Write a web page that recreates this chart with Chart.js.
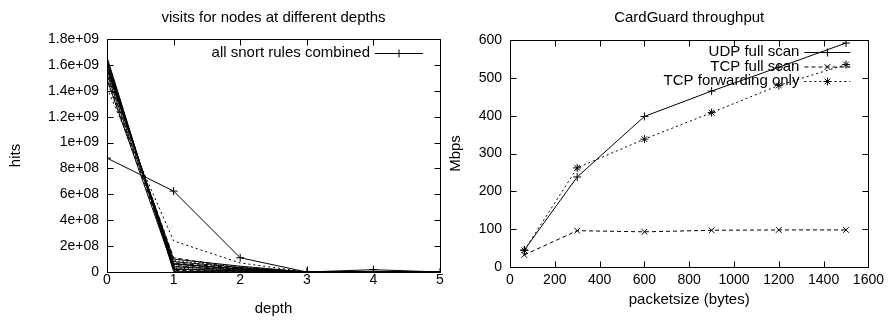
<!DOCTYPE html>
<html>
<head>
<meta charset="utf-8">
<script src="https://cdn.jsdelivr.net/npm/chart.js@4.4.1/dist/chart.umd.min.js"></script>
<style>
  html, body { margin: 0; padding: 0; background: #fff; }
  #wrap { position: relative; width: 889px; height: 320px; }
  canvas { position: absolute; top: 0; }
  #depthChart { left: 0; }
  #cardChart { left: 445px; }
</style>
</head>
<body>
<div id="wrap">
  <canvas id="depthChart" width="445" height="320"></canvas>
  <canvas id="cardChart" width="444" height="320"></canvas>
</div>
<script>
// --- visits per depth (left plot) ---
const depths = [0, 1, 2, 3, 4, 5];
const hitsTicks = [0, 2e8, 4e8, 6e8, 8e8, 1e9, 1.2e9, 1.4e9, 1.6e9, 1.8e9];
const hitsTickLabels = ['0', '2e+08', '4e+08', '6e+08', '8e+08', '1e+09', '1.2e+09', '1.4e+09', '1.6e+09', '1.8e+09'];
const combinedHits = [8.8e8, 6.25e8, 1.1e8, 0, 1.8e7, 0];
// single rules (no key entry), read off the bundle of lines
const ruleHits = [
    [1.66e9, 5e6, 2e6, 0, 0, 0],
    [1.65e9, 1.2e7, 4e6, 0, 0, 0],
    [1.64e9, 2.0e7, 8e6, 0, 1e6, 0],
    [1.63e9, 3.0e7, 1.2e7, 0, 0, 0],
    [1.62e9, 4.0e7, 1.5e7, 0, 2e6, 0],
    [1.61e9, 5.0e7, 2.0e7, 0, 0, 0],
    [1.60e9, 6.0e7, 2.5e7, 0, 3e6, 0],
    [1.59e9, 7.0e7, 3.0e7, 0, 0, 0],
    [1.58e9, 8.0e7, 3.5e7, 0, 0, 0],
    [1.57e9, 9.0e7, 4.0e7, 0, 5e6, 0],
    [1.56e9, 1.0e8, 4.5e7, 0, 0, 0],
    [1.55e9, 1.1e8, 3.0e7, 0, 0, 0],
    [1.53e9, 6.5e7, 2.2e7, 0, 0, 0],
    [1.51e9, 4.5e7, 1.8e7, 0, 0, 0],
    [1.49e9, 2.5e7, 1.0e7, 0, 0, 0],
    [1.47e9, 8.5e7, 3.8e7, 0, 0, 0],
    [1.42e9, 2.4e8, 7.0e7, 0, 0, 0]
];

// --- CardGuard throughput (right plot) ---
const packetSizes = [64, 300, 600, 900, 1200, 1500];
const udpFullScan = [45, 238, 398, 465, 528, 592];
const tcpFullScan = [32, 96, 93, 97, 98, 98];
const tcpForwarding = [44, 262, 338, 408, 480, 535];
const sizeTicks = [0, 200, 400, 600, 800, 1000, 1200, 1400, 1600];
const mbpsTicks = [0, 100, 200, 300, 400, 500, 600];

const FONT = '"Liberation Sans", Arial, Helvetica, sans-serif';
Chart.defaults.font.family = FONT;
Chart.defaults.font.size = 14;
Chart.defaults.color = '#000';

const DASHED = [4, 3];
const DOTTED = [1, 3];
const TEXT_FONT = { size: 15, weight: 'normal' };

// border box + inward ticks on all four sides, like gnuplot
const gnuplotFrame = {
    id: 'gnuplotFrame',
    afterDraw(chart) {
        const { ctx, chartArea: a, scales } = chart;
        const len = 6;
        const l = Math.round(a.left) + 0.5, r = Math.round(a.right) + 0.5;
        const t = Math.round(a.top) + 0.5, b = Math.round(a.bottom) + 0.5;
        ctx.save();
        ctx.strokeStyle = '#000';
        ctx.lineWidth = 1;
        ctx.beginPath();
        scales.x.ticks.forEach(tk => {
            const px = Math.round(scales.x.getPixelForValue(tk.value)) + 0.5;
            ctx.moveTo(px, b); ctx.lineTo(px, b - len);
            ctx.moveTo(px, t); ctx.lineTo(px, t + len);
        });
        scales.y.ticks.forEach(tk => {
            const py = Math.round(scales.y.getPixelForValue(tk.value)) + 0.5;
            ctx.moveTo(l, py); ctx.lineTo(l + len, py);
            ctx.moveTo(r, py); ctx.lineTo(r - len, py);
        });
        ctx.rect(l, t, r - l, b - t);
        ctx.stroke();
        ctx.restore();
    }
};

// key in the top right corner: text, then line sample with its marker
const gnuplotKey = {
    id: 'gnuplotKey',
    afterDatasetsDraw(chart, args, opts) {
        const { ctx, chartArea: a } = chart;
        const x1 = a.right - opts.right;
        const x0 = x1 - opts.sample;
        let y = a.top + opts.top;
        ctx.save();
        ctx.font = TEXT_FONT.size + 'px ' + FONT;
        ctx.textAlign = 'right';
        ctx.textBaseline = 'middle';
        ctx.fillStyle = '#000';
        ctx.strokeStyle = '#000';
        ctx.lineWidth = 1;
        chart.data.datasets.forEach(ds => {
            if (!ds.inKey) return;
            ctx.fillText(ds.label, x0 - opts.gap, y);
            ctx.setLineDash(ds.borderDash || []);
            ctx.beginPath();
            ctx.moveTo(x0, y + 0.5);
            ctx.lineTo(x1, y + 0.5);
            ctx.stroke();
            ctx.setLineDash([]);
            Chart.helpers.drawPoint(ctx, {
                pointStyle: ds.pointStyle, radius: ds.pointRadius, borderWidth: 1, rotation: 0
            }, (x0 + x1) / 2, y + 0.5);
            y += opts.step;
        });
        ctx.restore();
    }
};

function serie(label, xs, ys, style) {
    return Object.assign({
        label: label,
        data: xs.map((x, i) => ({ x: x, y: ys[i] })),
        borderColor: '#000',
        backgroundColor: '#000',
        borderWidth: 1,
        pointRadius: 0,
        pointBorderWidth: 1,
        fill: false,
        tension: 0
    }, style);
}

const lineStyles = [[], DASHED, [], DOTTED, [], DASHED];
const depthSets = ruleHits.map((h, i) =>
    serie('rule ' + (i + 1), depths, h, { borderDash: i === ruleHits.length - 1 ? [2, 3] : lineStyles[i % lineStyles.length] }));
depthSets.push(serie('all snort rules combined', depths, combinedHits, {
    pointStyle: 'cross', pointRadius: 4, inKey: true
}));

new Chart(document.getElementById('depthChart'), {
    type: 'line',
    data: { datasets: depthSets },
    options: {
        responsive: false,
        animation: false,
        layout: { padding: { right: 5 } },
        plugins: {
            legend: { display: false },
            tooltip: { enabled: false },
            title: {
                display: true, text: 'visits for nodes at different depths',
                font: TEXT_FONT, color: '#000', fullSize: false,
                padding: { top: 9, bottom: 12 }
            },
            gnuplotKey: { right: 17, sample: 48, gap: 5, top: 14, step: 14.5 }
        },
        scales: {
            x: {
                type: 'linear', min: 0, max: 5,
                grid: { display: false, drawTicks: false }, border: { display: false },
                afterBuildTicks: s => { s.ticks = depths.map(v => ({ value: v })); },
                ticks: { padding: 0, maxRotation: 0, callback: v => String(v) },
                title: { display: true, text: 'depth', font: TEXT_FONT, padding: { top: 0, bottom: 2 } },
                afterFit: s => { s.height = 48; }
            },
            y: {
                type: 'linear', min: 0, max: 1.8e9,
                grid: { display: false, drawTicks: false }, border: { display: false },
                afterBuildTicks: s => { s.ticks = hitsTicks.map(v => ({ value: v })); },
                ticks: { padding: 8, callback: (v, i) => hitsTickLabels[i] },
                title: { display: true, text: 'hits', font: TEXT_FONT, padding: { top: 7, bottom: 0 } },
                afterFit: s => { s.width = 107; }
            }
        }
    },
    plugins: [gnuplotFrame, gnuplotKey]
});

new Chart(document.getElementById('cardChart'), {
    type: 'line',
    data: {
        datasets: [
            serie('UDP full scan', packetSizes, udpFullScan, { pointStyle: 'cross', pointRadius: 4, inKey: true }),
            serie('TCP full scan', packetSizes, tcpFullScan, { pointStyle: 'crossRot', pointRadius: 4, borderDash: DASHED, inKey: true }),
            serie('TCP forwarding only', packetSizes, tcpForwarding, { pointStyle: 'star', pointRadius: 4, borderDash: [2, 3], inKey: true })
        ]
    },
    options: {
        responsive: false,
        animation: false,
        layout: { padding: { right: 18 } },
        plugins: {
            legend: { display: false },
            tooltip: { enabled: false },
            title: {
                display: true, text: 'CardGuard throughput',
                font: TEXT_FONT, color: '#000', fullSize: false,
                padding: { top: 9, bottom: 13 }
            },
            gnuplotKey: { right: 18, sample: 46, gap: 5, top: 12, step: 14.5 }
        },
        scales: {
            x: {
                type: 'linear', min: 0, max: 1600,
                grid: { display: false, drawTicks: false }, border: { display: false },
                afterBuildTicks: s => { s.ticks = sizeTicks.map(v => ({ value: v })); },
                ticks: { padding: 5, maxRotation: 0, callback: v => String(v) },
                title: { display: true, text: 'packetsize (bytes)', font: TEXT_FONT, padding: { top: 0, bottom: 11 } },
                afterFit: s => { s.height = 53; }
            },
            y: {
                type: 'linear', min: 0, max: 600,
                grid: { display: false, drawTicks: false }, border: { display: false },
                afterBuildTicks: s => { s.ticks = mbpsTicks.map(v => ({ value: v })); },
                ticks: { padding: 8, callback: v => String(v) },
                title: { display: true, text: 'Mbps', font: TEXT_FONT, padding: { top: 2, bottom: 0 } },
                afterFit: s => { s.width = 65; }
            }
        }
    },
    plugins: [gnuplotFrame, gnuplotKey]
});
</script>
</body>
</html>
